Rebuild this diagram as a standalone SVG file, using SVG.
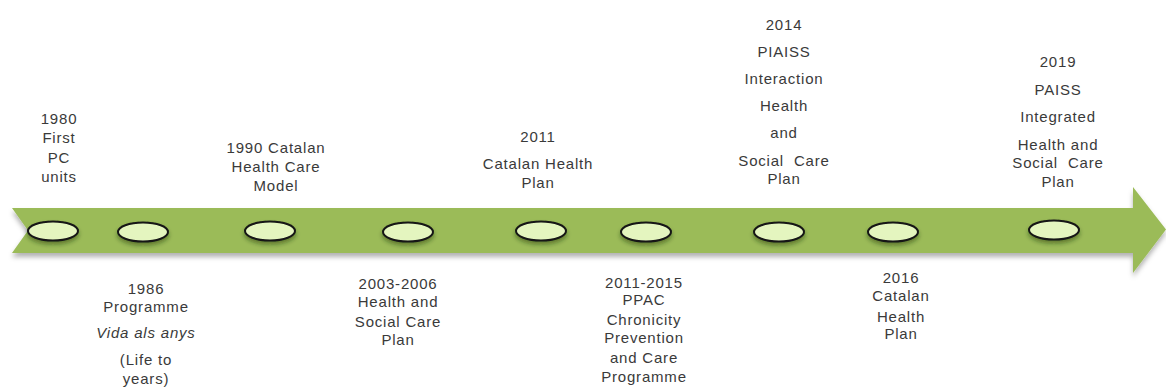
<svg xmlns="http://www.w3.org/2000/svg" width="1166" height="390" viewBox="0 0 1166 390">
  <defs>
    <filter id="bandShadow" x="-5%" y="-30%" width="110%" height="170%">
      <feDropShadow dx="0" dy="4" stdDeviation="2.5" flood-color="#000" flood-opacity="0.3"/>
    </filter>
    <filter id="dotShadow" x="-30%" y="-50%" width="160%" height="220%">
      <feDropShadow dx="0" dy="3" stdDeviation="2" flood-color="#1c2a08" flood-opacity="0.45"/>
    </filter>
  </defs>
  <style>
    .band { fill: #9bbb59; filter: url(#bandShadow); }
    .dot { fill: #e4f5bf; stroke: #151515; stroke-width: 2; filter: url(#dotShadow); }
    .lbl { font-family: "Liberation Sans", Arial, sans-serif; font-size: 15px; letter-spacing: 0.8px; fill: #3a3a3a; text-anchor: middle; }
    .it { font-style: italic; }
  </style>

  <!-- timeline arrow -->
  <g id="timeline">
    <path class="band" d="M12,208 L1133,208 L1133,187 L1166,229.5 L1133,273 L1133,253 L12,253 L28,230.5 Z"/>
  </g>

  <!-- milestone markers -->
  <g id="markers">
    <ellipse class="dot" cx="53" cy="231" rx="25" ry="9.5"/>
    <ellipse class="dot" cx="143" cy="232" rx="25" ry="9.5"/>
    <ellipse class="dot" cx="270" cy="231" rx="25" ry="9.5"/>
    <ellipse class="dot" cx="408" cy="232" rx="25" ry="9.5"/>
    <ellipse class="dot" cx="541" cy="231" rx="25" ry="9.5"/>
    <ellipse class="dot" cx="646" cy="232" rx="25" ry="9.5"/>
    <ellipse class="dot" cx="779" cy="232" rx="25" ry="9.5"/>
    <ellipse class="dot" cx="893" cy="232" rx="25" ry="9.5"/>
    <ellipse class="dot" cx="1054" cy="230" rx="25" ry="9.5"/>
  </g>

  <!-- labels above the arrow -->
  <g id="m1980">
    <text class="lbl" x="59" y="124">1980</text>
    <text class="lbl" x="59" y="143">First</text>
    <text class="lbl" x="59" y="163">PC</text>
    <text class="lbl" x="59" y="182">units</text>
  </g>
  <g id="m1990">
    <text class="lbl" x="276" y="153">1990 Catalan</text>
    <text class="lbl" x="276" y="172">Health Care</text>
    <text class="lbl" x="276" y="191">Model</text>
  </g>
  <g id="m2011">
    <text class="lbl" x="538" y="142">2011</text>
    <text class="lbl" x="538" y="169">Catalan Health</text>
    <text class="lbl" x="538" y="188">Plan</text>
  </g>
  <g id="m2014">
    <text class="lbl" x="784" y="30">2014</text>
    <text class="lbl" x="784" y="57">PIAISS</text>
    <text class="lbl" x="784" y="84">Interaction</text>
    <text class="lbl" x="784" y="111">Health</text>
    <text class="lbl" x="784" y="138">and</text>
    <text class="lbl" x="784" y="166" xml:space="preserve">Social  Care</text>
    <text class="lbl" x="784" y="184">Plan</text>
  </g>
  <g id="m2019">
    <text class="lbl" x="1058" y="67">2019</text>
    <text class="lbl" x="1058" y="95">PAISS</text>
    <text class="lbl" x="1058" y="122">Integrated</text>
    <text class="lbl" x="1058" y="150">Health and</text>
    <text class="lbl" x="1058" y="168" xml:space="preserve">Social  Care</text>
    <text class="lbl" x="1058" y="187">Plan</text>
  </g>

  <!-- labels below the arrow -->
  <g id="m1986">
    <text class="lbl" x="146" y="294">1986</text>
    <text class="lbl" x="146" y="312">Programme</text>
    <text class="lbl it" x="146" y="338">Vida als anys</text>
    <text class="lbl" x="146" y="365">(Life to</text>
    <text class="lbl" x="146" y="384">years)</text>
  </g>
  <g id="m2003">
    <text class="lbl" x="398" y="289">2003-2006</text>
    <text class="lbl" x="398" y="307">Health and</text>
    <text class="lbl" x="398" y="327">Social Care</text>
    <text class="lbl" x="398" y="345">Plan</text>
  </g>
  <g id="m2011b">
    <text class="lbl" x="644" y="288">2011-2015</text>
    <text class="lbl" x="644" y="305">PPAC</text>
    <text class="lbl" x="644" y="325">Chronicity</text>
    <text class="lbl" x="644" y="343">Prevention</text>
    <text class="lbl" x="644" y="363">and Care</text>
    <text class="lbl" x="644" y="382">Programme</text>
  </g>
  <g id="m2016">
    <text class="lbl" x="901" y="283">2016</text>
    <text class="lbl" x="901" y="301">Catalan</text>
    <text class="lbl" x="901" y="322">Health</text>
    <text class="lbl" x="901" y="339">Plan</text>
  </g>
</svg>
